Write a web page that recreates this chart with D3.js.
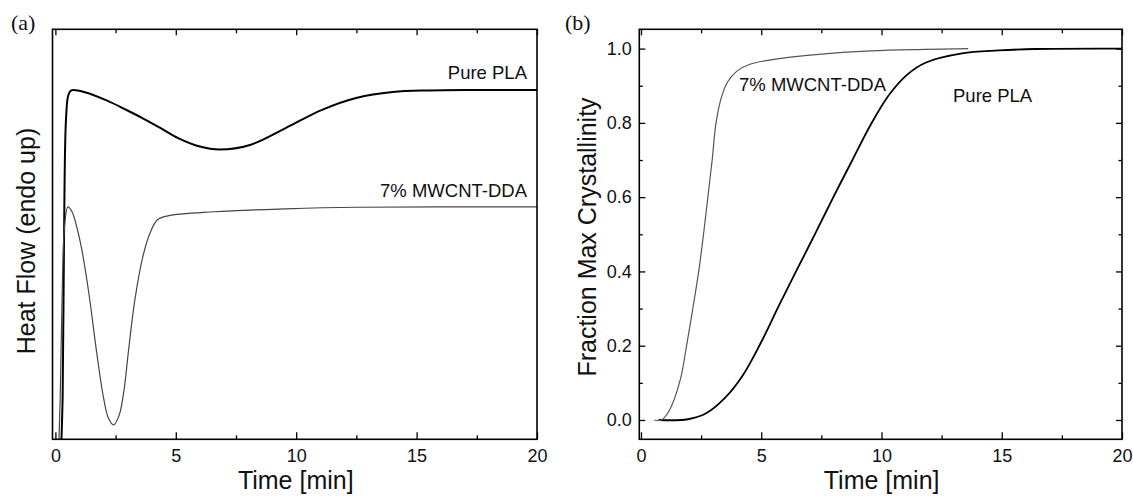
<!DOCTYPE html>
<html lang="en">
<head>
<meta charset="UTF-8">
<title>Heat flow and crystallinity</title>
<script src="https://d3js.org/d3.v7.min.js"></script>
<style>
  body { margin: 0; background: #fff; }
  svg { display: block; font-family: "Liberation Sans", Arial, sans-serif; }
  .tick line { stroke: #000; stroke-width: 1.3; }
  .tick text { font-size: 18px; fill: #111; }
  .frame { fill: none; stroke: #000; stroke-width: 1.6; }
  .curve { fill: none; }
</style>
</head>
<body>
<svg id="chart" width="1133" height="496"></svg>
<script>
  // time axis
  const timeTicks = [0, 5, 10, 15, 20];
  const timeMinor = [2.5, 7.5, 12.5, 17.5];
  const fracTicks = [0, 0.2, 0.4, 0.6, 0.8, 1.0];
  const fracMinor = [0.1, 0.3, 0.5, 0.7, 0.9];

  // (a) heat flow, arbitrary units (endo up)
  const heatPure = [
    [0.22, -0.05], [0.3, 0.1], [0.36, 0.5], [0.44, 0.78], [0.54, 0.84], [0.66, 0.851],
    [1.26, 0.846], [2.15, 0.826], [2.89, 0.805], [3.63, 0.783], [4.37, 0.759], [5.12, 0.734],
    [6.0, 0.714], [6.82, 0.707], [8.08, 0.718], [9.56, 0.759], [11.05, 0.803],
    [12.53, 0.833], [14.0, 0.847], [15.5, 0.851], [17.5, 0.852], [20, 0.852]
  ];
  const heatMwcnt = [
    [0.12, -0.05], [0.2, 0.1], [0.28, 0.35], [0.38, 0.52], [0.52, 0.567], [0.7, 0.554],
    [0.9, 0.515], [1.1, 0.462], [1.4, 0.352], [1.7, 0.218], [2.0, 0.101], [2.2, 0.052],
    [2.42, 0.035], [2.65, 0.059], [2.85, 0.12], [3.04, 0.218], [3.3, 0.34], [3.63, 0.445],
    [3.93, 0.503], [4.23, 0.535], [4.67, 0.545], [6.6, 0.555], [9.56, 0.562],
    [12.5, 0.566], [20, 0.567]
  ];

  // (b) fraction of max crystallinity
  const fracMwcnt = [
    [0.55, 0], [0.85, 0.0], [1.19, 0.027], [1.64, 0.11], [1.87, 0.19], [2.13, 0.29],
    [2.4, 0.40], [2.6, 0.50], [2.78, 0.60], [2.96, 0.70], [3.12, 0.80], [3.35, 0.87],
    [3.6, 0.91], [4.0, 0.94], [4.53, 0.958], [5.75, 0.973], [7.27, 0.984], [9.55, 0.994],
    [11.83, 0.998], [13.6, 1.0]
  ];
  const fracPure = [
    [0.73, 0], [1.95, 0.002], [2.71, 0.018], [3.47, 0.058], [4.23, 0.12], [5.0, 0.21],
    [5.75, 0.31], [6.51, 0.408], [7.27, 0.505], [8.02, 0.603], [8.79, 0.70], [9.55, 0.795],
    [10.31, 0.875], [11.07, 0.93], [11.83, 0.962], [13.35, 0.987], [14.87, 0.995],
    [16.4, 0.999], [20, 1.0]
  ];

  const svg = d3.select('#chart');
  const plotTop = 29.3, plotBottom = 439.3;

  function drawPanel(opts) {
    const x = d3.scaleLinear().domain(opts.xDomain).range(opts.xRange);
    const y = d3.scaleLinear().domain(opts.yDomain).range([plotBottom, plotTop]);
    const g = svg.append('g');

    const clipId = 'clip-' + opts.name;
    g.append('clipPath').attr('id', clipId)
      .append('rect')
      .attr('x', opts.xRange[0]).attr('y', plotTop)
      .attr('width', opts.xRange[1] - opts.xRange[0]).attr('height', plotBottom - plotTop);

    // bottom axis, ticks inward
    g.append('g').attr('transform', `translate(0,${plotBottom})`)
      .call(d3.axisBottom(x).tickValues(timeTicks).tickSize(-7).tickSizeOuter(0).tickPadding(10))
      .call(a => a.select('.domain').remove());
    g.append('g').attr('transform', `translate(0,${plotBottom})`)
      .call(d3.axisBottom(x).tickValues(timeMinor).tickSize(-4).tickSizeOuter(0).tickFormat(''))
      .call(a => a.select('.domain').remove());
    // top axis
    g.append('g').attr('transform', `translate(0,${plotTop})`)
      .call(d3.axisTop(x).tickValues(timeTicks).tickSize(-6).tickSizeOuter(0).tickFormat(''))
      .call(a => a.select('.domain').remove());
    g.append('g').attr('transform', `translate(0,${plotTop})`)
      .call(d3.axisTop(x).tickValues(timeMinor).tickSize(-4).tickSizeOuter(0).tickFormat(''))
      .call(a => a.select('.domain').remove());

    if (opts.yTicks) {
      g.append('g').attr('transform', `translate(${opts.xRange[0]},0)`)
        .call(d3.axisLeft(y).tickValues(opts.yTicks).tickSize(-6).tickSizeOuter(0)
          .tickPadding(7.5).tickFormat(d3.format('.1f')))
        .call(a => a.select('.domain').remove());
      g.append('g').attr('transform', `translate(${opts.xRange[0]},0)`)
        .call(d3.axisLeft(y).tickValues(opts.yMinor).tickSize(-3.5).tickSizeOuter(0).tickFormat(''))
        .call(a => a.select('.domain').remove());
      g.append('g').attr('transform', `translate(${opts.xRange[1]},0)`)
        .call(d3.axisRight(y).tickValues(opts.yTicks).tickSize(-6).tickSizeOuter(0).tickFormat(''))
        .call(a => a.select('.domain').remove());
      g.append('g').attr('transform', `translate(${opts.xRange[1]},0)`)
        .call(d3.axisRight(y).tickValues(opts.yMinor).tickSize(-3.5).tickSizeOuter(0).tickFormat(''))
        .call(a => a.select('.domain').remove());
    }

    const line = d3.line()
      .x(d => x(d[0]))
      .y(d => y(d[1]))
      .curve(d3.curveCatmullRom.alpha(0.5));

    opts.series.forEach(s => {
      g.append('path')
        .attr('class', 'curve')
        .attr('clip-path', `url(#${clipId})`)
        .attr('d', line(s.data))
        .attr('stroke', s.color)
        .attr('stroke-width', s.width);
    });

    g.append('rect').attr('class', 'frame')
      .attr('x', opts.xRange[0]).attr('y', plotTop)
      .attr('width', opts.xRange[1] - opts.xRange[0]).attr('height', plotBottom - plotTop);

    opts.labels.forEach(l => {
      g.append('text')
        .attr('x', l.x).attr('y', l.y)
        .attr('text-anchor', l.anchor)
        .style('font-size', '18.5px')
        .attr('fill', '#111')
        .text(l.text);
    });

    // axis titles
    g.append('text')
      .attr('x', (opts.xRange[0] + opts.xRange[1]) / 2 + 1)
      .attr('y', 489)
      .attr('text-anchor', 'middle')
      .style('font-size', '25px')
      .attr('fill', '#111')
      .text('Time [min]');
    g.append('text')
      .attr('transform', `translate(${opts.yTitleX},${opts.yTitleY}) rotate(-90)`)
      .attr('text-anchor', 'middle')
      .style('font-size', '25px')
      .attr('fill', '#111')
      .text(opts.yTitle);

    g.append('text')
      .attr('x', opts.tagX).attr('y', 30)
      .style('font-family', '"Liberation Serif", "Times New Roman", serif')
      .style('font-size', '22px')
      .attr('fill', '#111')
      .text(opts.tag);
  }

  drawPanel({
    name: 'a',
    xDomain: [-0.12, 20], xRange: [52.5, 537],
    yDomain: [0, 1],
    series: [
      { data: heatPure, color: '#000', width: 2 },
      { data: heatMwcnt, color: '#444', width: 1.2 }
    ],
    labels: [
      { text: 'Pure PLA', x: 527, y: 79, anchor: 'end' },
      { text: '7% MWCNT-DDA', x: 527, y: 196.7, anchor: 'end' }
    ],
    yTitle: 'Heat Flow (endo up)', yTitleX: 35, yTitleY: 241,
    tag: '(a)', tagX: 11
  });

  drawPanel({
    name: 'b',
    xDomain: [-0.07, 20], xRange: [639.3, 1122],
    yDomain: [-0.052, 1.052],
    yTicks: fracTicks, yMinor: fracMinor,
    series: [
      { data: fracPure, color: '#000', width: 1.8 },
      { data: fracMwcnt, color: '#555', width: 1.2 }
    ],
    labels: [
      { text: '7% MWCNT-DDA', x: 739, y: 90.7, anchor: 'start' },
      { text: 'Pure PLA', x: 953, y: 101.7, anchor: 'start' }
    ],
    yTitle: 'Fraction Max Crystallinity', yTitleX: 596, yTitleY: 237,
    tag: '(b)', tagX: 565
  });
</script>
</body>
</html>
